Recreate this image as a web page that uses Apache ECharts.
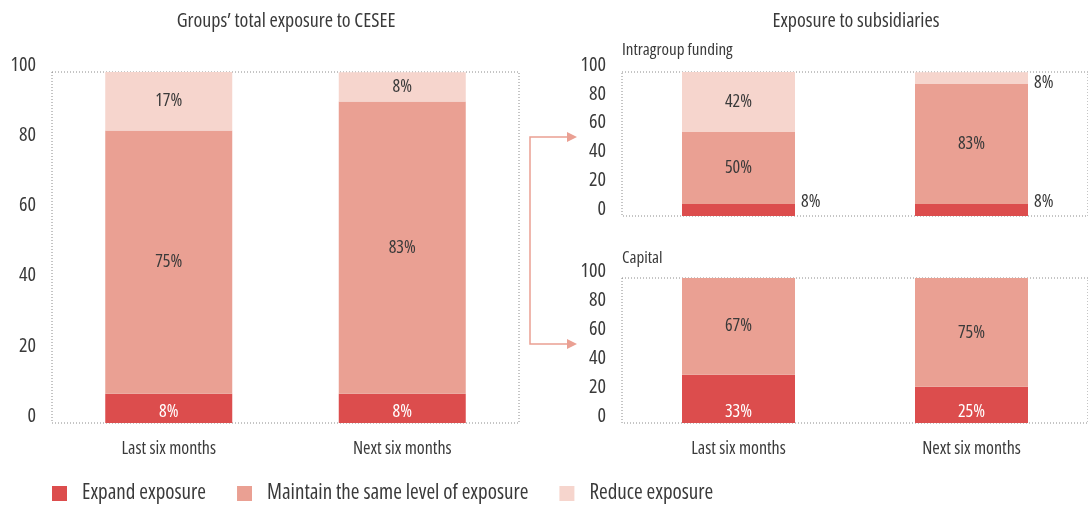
<!DOCTYPE html>
<html>
<head>
<meta charset="utf-8">
<script src="https://cdn.jsdelivr.net/npm/echarts@6/dist/echarts.min.js"></script>
<style>
html,body{margin:0;padding:0;background:#fff;}
#main{width:1088px;height:508px;}
</style>
</head>
<body>
<div id="main"></div>
<script>
//类别与数据
var categories = ['Last six months', 'Next six months'];
var seriesNames = ['Expand exposure', 'Maintain the same level of exposure', 'Reduce exposure'];
// 左图 Groups' total exposure
var totalExpand = [8.3, 8.3];
var totalMaintain = [75.0, 83.3];
var totalReduce = [16.7, 8.3];
// 右上 Intragroup funding
var fundExpand = [8.3, 8.3];
var fundMaintain = [50.0, 83.3];
var fundReduce = [41.7, 8.3];
// 右下 Capital
var capExpand = [33.3, 25.0];
var capMaintain = [66.7, 75.0];
var capReduce = [0, 0];
var yMin = 0, yMax = 100, yStep = 20;

// Open Sans 是可变字体，condensed 可以压窄
var FONT = '"Open Sans", sans-serif';
var FW = 'condensed';
var TXT = '#3a3a3a';
var colors = ['#dc4d4d', '#eaa093', '#f6d5cd'];

function pct(p){
	if(!p.value){ return ''; }
	return Math.round(p.value) + '%';
}

function ts(size, color){
	return {color:color || TXT, fontFamily:FONT, fontWeight:FW, fontSize:size};
}

function yAxisOf(idx){
	var lab = ts(20);
	lab.margin = 16;
	//刻度文字比刻度线略高
	lab.verticalAlign = 'bottom';
	lab.lineHeight = 14;
	return {
		type:'value', gridIndex:idx, min:yMin, max:yMax, interval:yStep,
		splitLine:{show:false}, axisLine:{show:false}, axisTick:{show:false},
		axisLabel:lab
	};
}
function xAxisOf(idx, showLabel){
	var lab = ts(18);
	lab.show = showLabel;
	lab.margin = 17;
	return {
		type:'category', gridIndex:idx, data:categories,
		axisLine:{show:false}, axisTick:{show:false},
		axisLabel:lab
	};
}
function gridOf(left, top, width, height){
	return {left:left, top:top, width:width, height:height, show:true,
		borderColor:'#8a8a8a', borderWidth:1, borderType:[1,2], backgroundColor:'transparent'};
}
function bar(idx, name, data, color, barW, label){
	return {
		type:'bar', name:name, stack:'s'+idx, xAxisIndex:idx, yAxisIndex:idx,
		data:data, barWidth:barW, itemStyle:{color:color},
		label:label
	};
}
function inLabel(color, pos, dist){
	var l = ts(18, color);
	l.show = true;
	l.position = pos || 'inside';
	l.distance = dist || 5;
	l.formatter = pct;
	return l;
}
function outLabel(dy){
	var l = ts(18);
	l.show = true;
	l.position = 'right';
	l.distance = 6;
	l.offset = [0, dy];
	l.formatter = pct;
	return l;
}

var chart = echarts.init(document.getElementById('main'));
var option = {
	animation:false,
	color:colors,
	title:[
		{text:'Groups\u2019 total exposure to CESEE', left:281, top:6, textAlign:'center', textStyle:ts(20)},
		{text:'Exposure to subsidiaries', left:851, top:6, textAlign:'center', textStyle:ts(20)},
		{text:'Intragroup funding', left:617, top:37, textStyle:ts(17)},
		{text:'Capital', left:617, top:245, textStyle:ts(17)}
	],
	legend:{
		data:seriesNames, left:47, top:478, icon:'rect', itemWidth:15, itemHeight:15,
		itemGap:31, selectedMode:false,
		textStyle:(function(){ var t = ts(21); t.padding = [0,0,0,10]; return t; })()
	},
	grid:[
		gridOf(52, 72, 467, 351),
		gridOf(622, 72, 466, 144),
		gridOf(622, 278, 466, 145)
	],
	xAxis:[xAxisOf(0, true), xAxisOf(1, false), xAxisOf(2, true)],
	yAxis:[yAxisOf(0), yAxisOf(1), yAxisOf(2)],
	series:[
		bar(0, seriesNames[0], totalExpand, colors[0], 127, inLabel('#fff', 'insideBottom', 2)),
		bar(0, seriesNames[1], totalMaintain, colors[1], 127, inLabel(TXT)),
		bar(0, seriesNames[2], totalReduce, colors[2], 127, inLabel(TXT)),
		bar(1, seriesNames[0], fundExpand, colors[0], 113, outLabel(-8)),
		bar(1, seriesNames[1], fundMaintain, colors[1], 113, inLabel(TXT)),
		bar(1, seriesNames[2], [
			{value:fundReduce[0], label:inLabel(TXT)},
			{value:fundReduce[1], label:outLabel(5)}
		], colors[2], 113, inLabel(TXT)),
		bar(2, seriesNames[0], capExpand, colors[0], 113, inLabel('#fff', 'insideBottom', 2)),
		bar(2, seriesNames[1], capMaintain, colors[1], 113, inLabel(TXT)),
		bar(2, seriesNames[2], capReduce, colors[2], 113, inLabel(TXT))
	],
	graphic:[
		{type:'polyline', shape:{points:[[568,137],[530,137],[530,344],[568,344]]},
			style:{stroke:'#eaa093', lineWidth:1.5, fill:null}},
		{type:'polygon', shape:{points:[[567,132],[577,137],[567,142]]}, style:{fill:'#eaa093'}},
		{type:'polygon', shape:{points:[[567,339],[577,344],[567,349]]}, style:{fill:'#eaa093'}}
	]
};
chart.setOption(option);
</script>
</body>
</html>
